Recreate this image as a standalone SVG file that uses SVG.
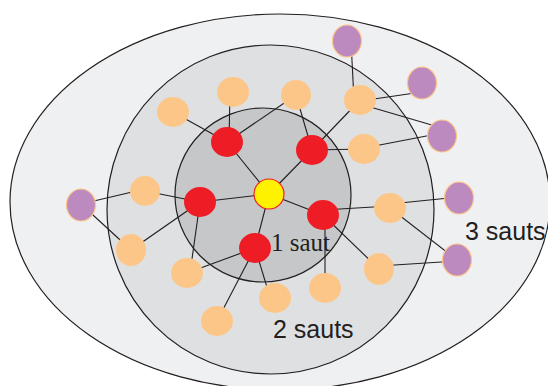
<svg xmlns="http://www.w3.org/2000/svg" width="548" height="386" viewBox="0 0 548 386">
<style>
.ring{stroke:#231F20;stroke-width:1.2}
.e line{stroke:#231F20;stroke-width:1.1}
.y{fill:#FFF200;stroke:#EE1C25;stroke-width:1.2}
.r{fill:#EE1C25}
.o{fill:#FDC689}
.p{fill:#BC8ABF;stroke:#FDC689;stroke-width:1.2}
.lbl{font-family:"Liberation Sans",Arial,sans-serif;font-size:25px;fill:#231F20}
.lbs{font-family:"Liberation Serif","Times New Roman",serif;font-size:25px;fill:#231F20}
</style>
<rect width="548" height="386" fill="#FFFFFF"/>
<g id="zone3"><ellipse class="ring" cx="280" cy="202" rx="270" ry="188" fill="#EFF0F2"/></g>
<g id="zone2"><ellipse class="ring" cx="270.5" cy="209.5" rx="163.5" ry="164.5" fill="#DFE0E2"/></g>
<g id="zone1"><ellipse class="ring" cx="263" cy="195" rx="88" ry="87" fill="#C6C7C9"/></g>
<g id="connectors" class="e">
<line x1="269" y1="194" x2="227" y2="142"/>
<line x1="269" y1="194" x2="312" y2="150"/>
<line x1="269" y1="194" x2="200" y2="202"/>
<line x1="269" y1="194" x2="323" y2="215"/>
<line x1="269" y1="194" x2="255" y2="248"/>
<line x1="227" y1="142" x2="173" y2="112"/>
<line x1="229" y1="142" x2="230" y2="92"/>
<line x1="227" y1="142" x2="296" y2="95"/>
<line x1="312" y1="150" x2="296" y2="95"/>
<line x1="312" y1="150" x2="360" y2="100"/>
<line x1="312" y1="150" x2="364" y2="149"/>
<line x1="200" y1="202" x2="145" y2="191"/>
<line x1="200" y1="202" x2="131" y2="250"/>
<line x1="200" y1="202" x2="190" y2="273"/>
<line x1="255" y1="248" x2="187" y2="273"/>
<line x1="255" y1="248" x2="217" y2="321"/>
<line x1="255" y1="248" x2="270" y2="297"/>
<line x1="325" y1="215" x2="325" y2="288"/>
<line x1="323" y1="215" x2="379" y2="269"/>
<line x1="323" y1="210" x2="390" y2="206"/>
<line x1="351" y1="41" x2="354" y2="100"/>
<line x1="360" y1="101" x2="422" y2="92"/>
<line x1="360" y1="104" x2="442" y2="128"/>
<line x1="364" y1="148" x2="442" y2="133"/>
<line x1="390" y1="204" x2="459" y2="197"/>
<line x1="390" y1="208" x2="457" y2="260"/>
<line x1="379" y1="266" x2="457" y2="261"/>
<line x1="81" y1="204" x2="145" y2="189"/>
<line x1="81" y1="204" x2="131" y2="250"/>
</g>
<g id="n0"><ellipse class="y" cx="269" cy="194" rx="15" ry="15"/></g>
<g id="r1"><ellipse class="r" cx="227" cy="142" rx="16" ry="15"/></g>
<g id="r2"><ellipse class="r" cx="312" cy="150" rx="16" ry="15"/></g>
<g id="r3"><ellipse class="r" cx="200" cy="202" rx="16" ry="15"/></g>
<g id="r4"><ellipse class="r" cx="323" cy="215" rx="16" ry="15"/></g>
<g id="r5"><ellipse class="r" cx="255" cy="248" rx="16" ry="15"/></g>
<g id="o1"><ellipse class="o" cx="173" cy="112" rx="16" ry="15"/></g>
<g id="o2"><ellipse class="o" cx="233" cy="92" rx="16" ry="15"/></g>
<g id="o3"><ellipse class="o" cx="296" cy="95" rx="15" ry="15"/></g>
<g id="o4"><ellipse class="o" cx="360" cy="100" rx="16" ry="15"/></g>
<g id="o5"><ellipse class="o" cx="364" cy="149" rx="16" ry="15"/></g>
<g id="o6"><ellipse class="o" cx="145" cy="191" rx="15" ry="15"/></g>
<g id="o7"><ellipse class="o" cx="131" cy="250" rx="15" ry="16"/></g>
<g id="o8"><ellipse class="o" cx="187" cy="273" rx="16" ry="15"/></g>
<g id="o9"><ellipse class="o" cx="217" cy="321" rx="16" ry="15"/></g>
<g id="o10"><ellipse class="o" cx="275" cy="298" rx="16" ry="15"/></g>
<g id="o11"><ellipse class="o" cx="325" cy="288" rx="16" ry="15"/></g>
<g id="o12"><ellipse class="o" cx="379" cy="269" rx="15" ry="16"/></g>
<g id="o13"><ellipse class="o" cx="390" cy="208" rx="16" ry="15"/></g>
<g id="p1"><ellipse class="p" cx="347" cy="41" rx="14.5" ry="16"/></g>
<g id="p2"><ellipse class="p" cx="422" cy="83" rx="14.5" ry="16"/></g>
<g id="p3"><ellipse class="p" cx="442" cy="136" rx="14.5" ry="16"/></g>
<g id="p4"><ellipse class="p" cx="459" cy="198" rx="14.5" ry="16"/></g>
<g id="p5"><ellipse class="p" cx="457" cy="260" rx="14.5" ry="16"/></g>
<g id="p6"><ellipse class="p" cx="81" cy="205" rx="14.5" ry="16"/></g>
<text class="lbs" x="271" y="251">1 saut</text>
<text class="lbl" x="273" y="338">2 sauts</text>
<text class="lbl" x="465" y="240">3 sauts</text>
</svg>
